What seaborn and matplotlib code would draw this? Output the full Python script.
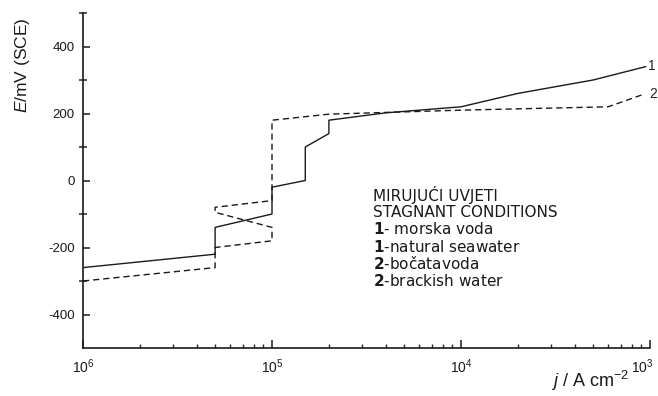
import numpy as np
import pandas as pd
import seaborn as sns
import matplotlib
matplotlib.use("Agg")
import matplotlib.pyplot as plt
import matplotlib.transforms as mtransforms
from matplotlib.ticker import FixedLocator, NullFormatter, LogLocator

# ---- data ----
j_sea = [1e-6, 5e-6, 5e-6, 1e-5, 1e-5, 1.5e-5, 1.5e-5, 2e-5, 2e-5, 4e-5, 1e-4, 2e-4, 5e-4, 9.5e-4]
E_sea = [-260, -220, -140, -100, -20, 0, 100, 140, 180, 202, 220, 260, 300, 340]

j_brack = [1e-6, 5e-6, 5e-6, 1e-5, 1e-5, 5e-6, 5e-6, 1e-5, 1e-5, 2e-5, 1e-4, 6e-4, 9e-4]
E_brack = [-300, -260, -200, -180, -140, -95, -80, -60, 180, 198, 210, 220, 255]

y_major = [-400, -200, 0, 200, 400]
y_major_labels = ["-400", "-200", "0", "200", "400"]
y_minor = [-300, -100, 100, 300, 500]
x_major = [1e-6, 1e-5, 1e-4, 1e-3]
x_major_labels = ["10$^6$", "10$^5$", "10$^4$", "10$^3$"]

legend_lines = ["MIRUJUĆI UVJETI", "STAGNANT CONDITIONS",
                r"$\mathbf{1}$- morska voda", r"$\mathbf{1}$-natural seawater",
                r"$\mathbf{2}$-bočatavoda", r"$\mathbf{2}$-brackish water"]

sns.set_style("ticks")
plt.rcParams["font.family"] = ["Liberation Sans", "DejaVu Sans"]
plt.rcParams["mathtext.fontset"] = "custom"
plt.rcParams["mathtext.rm"] = "Liberation Sans"
plt.rcParams["mathtext.it"] = "Liberation Sans:italic"
plt.rcParams["mathtext.bf"] = "DejaVu Sans:bold"

df1 = pd.DataFrame({"j": j_sea, "E": E_sea})
df2 = pd.DataFrame({"j": j_brack, "E": E_brack})

fig = plt.figure(figsize=(6.58, 3.96), dpi=100)
ax = fig.add_axes([83/658, (396-348)/396, (650-83)/658, (348-13)/396])

sns.lineplot(data=df1, x="j", y="E", sort=False, estimator=None, ax=ax,
             color="#1a1a1a", lw=1.0)
sns.lineplot(data=df2, x="j", y="E", sort=False, estimator=None, ax=ax,
             color="#1a1a1a", lw=1.0)
ax.lines[-1].set_dashes((4.5, 2.8))

ax.set_xscale("log")
ax.set_xlim(1e-6, 1e-3)
ax.set_ylim(-500, 500)
ax.set_xlabel("")
ax.set_ylabel("")

for s in ["top", "right"]:
    ax.spines[s].set_visible(False)
for s in ["left", "bottom"]:
    ax.spines[s].set_linewidth(1.2)
    ax.spines[s].set_color("#1a1a1a")

ax.yaxis.set_major_locator(FixedLocator(y_major))
ax.set_yticklabels(y_major_labels)
ax.yaxis.set_minor_locator(FixedLocator(y_minor))
ax.xaxis.set_major_locator(FixedLocator(x_major))
ax.set_xticklabels(x_major_labels)
ax.xaxis.set_minor_locator(LogLocator(base=10, subs=np.arange(2, 10), numticks=20))
ax.xaxis.set_minor_formatter(NullFormatter())

ax.tick_params(axis="y", which="major", direction="in", length=5, width=1.1,
               labelsize=9.5, pad=6, colors="#1a1a1a")
ax.tick_params(axis="y", which="minor", direction="inout", length=6, width=1.1)
ax.tick_params(axis="x", which="major", direction="in", length=6, width=1.1,
               labelsize=10, pad=7, colors="#1a1a1a")
ax.tick_params(axis="x", which="minor", direction="in", length=3, width=1.0)

# shift last x tick label slightly left (as in reference)
last = ax.get_xticklabels()[-1]
last.set_transform(last.get_transform() + mtransforms.ScaledTranslation(-8/100, 0, fig.dpi_scale_trans))

# curve labels
fig.text(648/658, 1 - 66/396, "1", fontsize=10, va="center", ha="left")
fig.text(657/658, 1 - 94/396, "2", fontsize=10, va="center", ha="right")

# legend text block
for i, t in enumerate(legend_lines):
    fig.text(373/658, 1 - (195 + i*17.2)/396, t, fontsize=11, ha="left", va="center",
             family=["DejaVu Sans"], color="#1a1a1a")

# axis labels
fig.text(23/658, 1 - 65/396, r"$\mathit{E}$/mV (SCE)", rotation=90, fontsize=12.5,
         ha="center", va="center", color="#1a1a1a")
fig.text(590/658, 1 - 381/396, r"$\mathit{j}$ / A cm$^{-2}$", fontsize=13,
         ha="center", va="center", color="#1a1a1a")

fig.savefig("out.png", dpi=100)
